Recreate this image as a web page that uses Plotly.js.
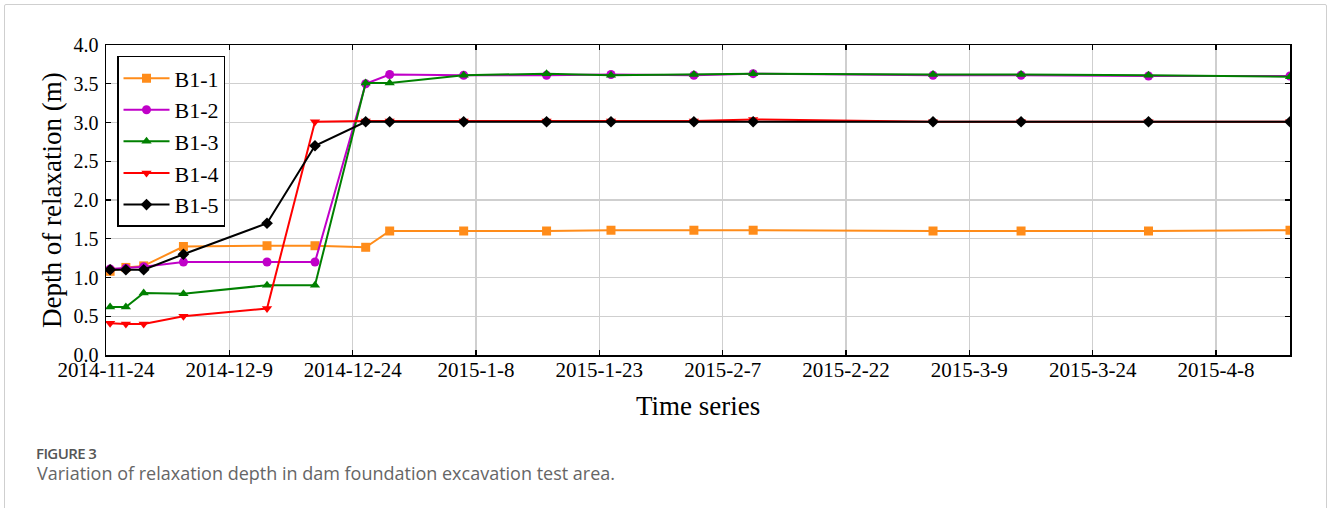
<!DOCTYPE html>
<html>
<head>
<meta charset="utf-8">
<script src="https://cdn.plot.ly/plotly-3.0.1.min.js"></script>
<style>
  html, body { margin: 0; padding: 0; background: #fff; }
  #wrap { position: relative; width: 1328px; height: 508px; overflow: hidden; }
  #chart { position: absolute; left: 0; top: 0; width: 1328px; height: 508px; }
  #frame { position: absolute; left: 4px; top: 4px; width: 1321px; height: 600px;
           border: 1px solid #cfcfcf; border-radius: 2px; pointer-events: none; z-index: 5; }
  #figlabel { position: absolute; left: 36px; top: 443px; font-family: "Open Sans", sans-serif;
              font-size: 15px; font-weight: 600; color: #555; letter-spacing: -0.6px; line-height: 20px; z-index: 6; }
  #caption { position: absolute; left: 37px; top: 461px; font-family: "Open Sans", sans-serif;
             font-size: 18px; color: #666; line-height: 24px; z-index: 6; }
</style>
</head>
<body>
<div id="wrap">
  <div id="chart"></div>
  <div id="frame"></div>
  <div id="figlabel">FIGURE 3</div>
  <div id="caption">Variation of relaxation depth in dam foundation excavation test area.</div>
</div>
<script>
const dates = [
  '2014-11-24 12:00', '2014-11-26 10:00', '2014-11-28 14:00', '2014-12-03 10:00',
  '2014-12-13 14:00', '2014-12-19 10:00', '2014-12-25 14:00', '2014-12-28 12:00',
  '2015-01-06 12:00', '2015-01-16 14:00', '2015-01-24 10:00', '2015-02-03 12:00',
  '2015-02-10 17:00', '2015-03-04 14:00', '2015-03-15 07:00', '2015-03-30 19:00',
  '2015-04-17 00:00'
];
const seriesNames = ['B1-1', 'B1-2', 'B1-3', 'B1-4', 'B1-5'];
const b11 = [1.08, 1.13, 1.15, 1.40, 1.41, 1.41, 1.39, 1.60, 1.60, 1.60, 1.61, 1.61, 1.61, 1.60, 1.60, 1.60, 1.61];
const b12 = [1.11, 1.12, 1.14, 1.20, 1.20, 1.20, 3.50, 3.62, 3.61, 3.61, 3.62, 3.61, 3.63, 3.61, 3.61, 3.60, 3.60];
const b13 = [0.62, 0.62, 0.80, 0.79, 0.90, 0.90, 3.51, 3.51, 3.61, 3.63, 3.61, 3.62, 3.63, 3.62, 3.62, 3.61, 3.59];
const b14 = [0.41, 0.40, 0.40, 0.50, 0.60, 3.01, 3.02, 3.02, 3.02, 3.02, 3.02, 3.02, 3.04, 3.01, 3.01, 3.01, 3.01];
const b15 = [1.10, 1.10, 1.10, 1.30, 1.70, 2.70, 3.01, 3.01, 3.01, 3.01, 3.01, 3.01, 3.01, 3.01, 3.01, 3.01, 3.01];

const xTitle = 'Time series';
const yTitle = 'Depth of relaxation (m)';

const values = [b11, b12, b13, b14, b15];
const colors = ['#ff8c1a', '#c000c8', '#008000', '#ff0000', '#000000'];
const symbols = ['square', 'circle', 'triangle-up', 'triangle-down', 'diamond'];

const traces = seriesNames.map((n, i) => ({
  type: 'scatter', mode: 'lines+markers', name: n,
  x: dates, y: values[i],
  line: { color: colors[i], width: 2 },
  marker: { color: colors[i], symbol: symbols[i], size: 9 }
}));

const serif = '"Liberation Serif", "Times New Roman", serif';
const layout = {
  width: 1328, height: 508,
  margin: { l: 106, r: 38, t: 45, b: 153 },
  paper_bgcolor: 'rgba(0,0,0,0)', plot_bgcolor: '#fff',
  font: { family: serif, color: '#000', size: 21 },
  showlegend: true,
  legend: {
    x: 0.0093, y: 0.965, xanchor: 'left', yanchor: 'top',
    bgcolor: '#fff', bordercolor: '#000', borderwidth: 1.5,
    font: { family: serif, size: 22, color: '#000' },
    itemwidth: 46, tracegroupgap: 0
  },
  xaxis: {
    type: 'date',
    range: ['2014-11-24', '2015-04-17'],
    tick0: '2014-11-24', dtick: 15 * 86400000,
    tickformat: '%Y-%-m-%-d',
    ticks: 'inside', ticklen: 5, tickwidth: 1.2, tickcolor: '#000',
    showline: true, linecolor: '#000', linewidth: 1.5, mirror: 'ticks',
    showgrid: true, gridcolor: '#cfcfcf', gridwidth: 1.3,
    zeroline: false,
    tickfont: { family: serif, size: 21 },
    ticklabelstandoff: -5
  },
  yaxis: {
    range: [0, 4], dtick: 0.5, tickformat: '.1f',
    ticks: 'inside', ticklen: 5, tickwidth: 1.2, tickcolor: '#000',
    showline: true, linecolor: '#000', linewidth: 1.5, mirror: 'ticks',
    showgrid: true, gridcolor: '#cfcfcf', gridwidth: 1.3,
    zeroline: false,
    tickfont: { family: serif, size: 20 },
    ticklabelstandoff: 2
  },
  annotations: [
    { text: xTitle, xref: 'paper', yref: 'paper', x: 0.5, y: -0.165,
      xanchor: 'center', yanchor: 'middle', showarrow: false,
      font: { family: serif, size: 27, color: '#000' } },
    { text: yTitle, xref: 'paper', yref: 'paper', x: -0.0456, y: 0.5, textangle: -90,
      xanchor: 'center', yanchor: 'middle', showarrow: false,
      font: { family: serif, size: 27, color: '#000' } }
  ]
};

Plotly.newPlot('chart', traces, layout, { displayModeBar: false, staticPlot: true });
</script>
</body>
</html>
